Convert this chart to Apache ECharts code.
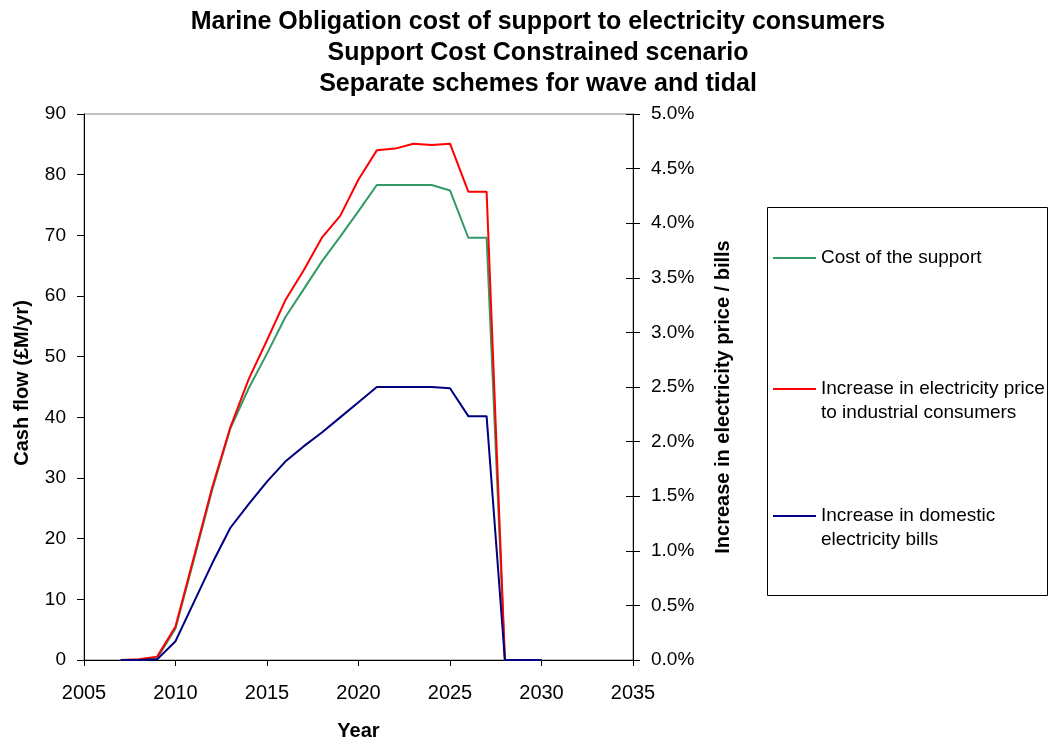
<!DOCTYPE html>
<html>
<head>
<meta charset="utf-8">
<script src="https://cdn.jsdelivr.net/npm/echarts@6/dist/echarts.min.js"></script>
<style>
  html, body { margin: 0; padding: 0; background: #fff; }
  #main { width: 1050px; height: 740px; }
</style>
</head>
<body>
<div id="main"></div>
<script>
// years on the x axis
var years = [2007, 2008, 2009, 2010, 2011, 2012, 2013, 2014, 2015, 2016, 2017, 2018,
             2019, 2020, 2021, 2022, 2023, 2024, 2025, 2026, 2027, 2028, 2029, 2030];

// cost of the support, £M/yr (left axis)
var costSupport = [0, 0, 0.3, 5.2, 16.5, 28.0, 38.2, 44.8, 50.5, 56.5, 61.1, 65.7,
                   69.8, 74.0, 78.3, 78.3, 78.3, 78.3, 77.4, 69.6, 69.6, 0, 0, 0];

// increase in electricity price to industrial consumers, % (right axis)
var industrialPct = [0, 0.006, 0.031, 0.306, 0.939, 1.578, 2.133, 2.572, 2.928, 3.294, 3.567, 3.867,
                     4.067, 4.400, 4.667, 4.683, 4.728, 4.717, 4.728, 4.289, 4.289, 0, 0, 0];

// increase in domestic electricity bills, % (right axis)
var domesticPct = [0, 0, 0.006, 0.172, 0.528, 0.883, 1.211, 1.428, 1.633, 1.817, 1.956, 2.083,
                   2.222, 2.361, 2.500, 2.500, 2.500, 2.500, 2.489, 2.233, 2.233, 0, 0, 0];

var names = ['Cost of the support',
             'Increase in electricity price\nto industrial consumers',
             'Increase in domestic\nelectricity bills'];
var colors = ['#339966', '#ff0000', '#000080'];

function pairs(vals) {
  return years.map(function (y, i) { return [y, vals[i]]; });
}

var font = 'Liberation Sans, Arial, sans-serif';
var chart = echarts.init(document.getElementById('main'), null, { renderer: 'canvas' });

// line at the height of the first text line; the two specks stretch the box to 48px
var topLineIcon = 'path://M0,11h43v2h-43z M0,0h0.01v0.01h-0.01z M0,47.99h0.01v0.01h-0.01z';

// one legend per entry so each can sit at its own height in the box
function legendAt(i, top, twoLines) {
  return {
    left: 773,
    top: top,
    padding: 0,
    orient: 'vertical',
    selectedMode: false,
    icon: twoLines ? topLineIcon : 'rect',
    itemWidth: 43,
    itemHeight: twoLines ? 48 : 2,
    itemGap: 0,
    data: [names[i]],
    textStyle: { fontFamily: font, fontSize: 19, color: '#000', lineHeight: 24 }
  };
}

var option = {
  backgroundColor: '#fff',
  animation: false,
  title: {
    text: 'Marine Obligation cost of support to electricity consumers\nSupport Cost Constrained scenario\nSeparate schemes for wave and tidal',
    left: 533,
    textAlign: 'center',
    top: 2,
    textStyle: { fontFamily: font, fontSize: 25, fontWeight: 'bold', color: '#000', lineHeight: 31 }
  },
  grid: {
    left: 84, right: 417, top: 114, bottom: 80,
    outerBoundsMode: 'none',
    show: true, borderColor: '#808080', borderWidth: 1
  },
  legend: [legendAt(0, 246, false), legendAt(1, 377, true), legendAt(2, 504, true)],
  graphic: [{
    type: 'rect',
    shape: { x: 767.5, y: 207.5, width: 280, height: 388 },
    style: { fill: 'none', stroke: '#000', lineWidth: 1 },
    z: -1
  }],
  xAxis: {
    type: 'value',
    min: 2005, max: 2035, interval: 5,
    name: 'Year',
    nameLocation: 'middle',
    nameGap: 61,
    nameTextStyle: { fontFamily: font, fontSize: 20, fontWeight: 'bold', color: '#000' },
    axisLine: { lineStyle: { color: '#000', width: 1 } },
    axisTick: { length: 6, lineStyle: { color: '#000' } },
    axisLabel: {
      fontFamily: font, fontSize: 20, color: '#000', margin: 23,
      formatter: function (v) { return String(v); }
    },
    splitLine: { show: false }
  },
  yAxis: [{
    type: 'value',
    min: 0, max: 90, interval: 10,
    name: 'Cash flow (£M/yr)',
    nameLocation: 'middle',
    nameGap: 52,
    nameTextStyle: { fontFamily: font, fontSize: 20, fontWeight: 'bold', color: '#000', padding: [0, 0, 0, 8] },
    axisLine: { show: true, lineStyle: { color: '#000', width: 1 } },
    axisTick: { show: true, length: 7, lineStyle: { color: '#000' } },
    axisLabel: { fontFamily: font, fontSize: 19, color: '#000', margin: 18 },
    splitLine: { show: false }
  }, {
    type: 'value',
    position: 'right',
    min: 0, max: 5, interval: 0.5,
    name: 'Increase in electricity price / bills',
    nameLocation: 'middle',
    nameGap: 80,
    nameRotate: 90,
    nameTextStyle: { fontFamily: font, fontSize: 20, fontWeight: 'bold', color: '#000', padding: [0, 20, 0, 0] },
    axisLine: { show: true, lineStyle: { color: '#000', width: 1 } },
    axisTick: { show: true, length: 7, lineStyle: { color: '#000' } },
    axisLabel: {
      fontFamily: font, fontSize: 19, color: '#000', margin: 18,
      formatter: function (v) { return v.toFixed(1) + '%'; }
    },
    splitLine: { show: false }
  }, {
    // inner half of the crossing ticks on the right axis
    type: 'value',
    position: 'right',
    min: 0, max: 5, interval: 0.5,
    axisLine: { show: false },
    axisTick: { show: true, inside: true, length: 7, lineStyle: { color: '#000' } },
    axisLabel: { show: false },
    splitLine: { show: false }
  }],
  series: [{
    name: names[0],
    type: 'line',
    yAxisIndex: 0,
    data: pairs(costSupport),
    showSymbol: false,
    color: colors[0],
    lineStyle: { width: 2, color: colors[0] }
  }, {
    name: names[1],
    type: 'line',
    yAxisIndex: 1,
    data: pairs(industrialPct),
    showSymbol: false,
    color: colors[1],
    lineStyle: { width: 2, color: colors[1] }
  }, {
    name: names[2],
    type: 'line',
    yAxisIndex: 1,
    data: pairs(domesticPct),
    showSymbol: false,
    color: colors[2],
    lineStyle: { width: 2, color: colors[2] }
  }]
};

chart.setOption(option);
</script>
</body>
</html>
